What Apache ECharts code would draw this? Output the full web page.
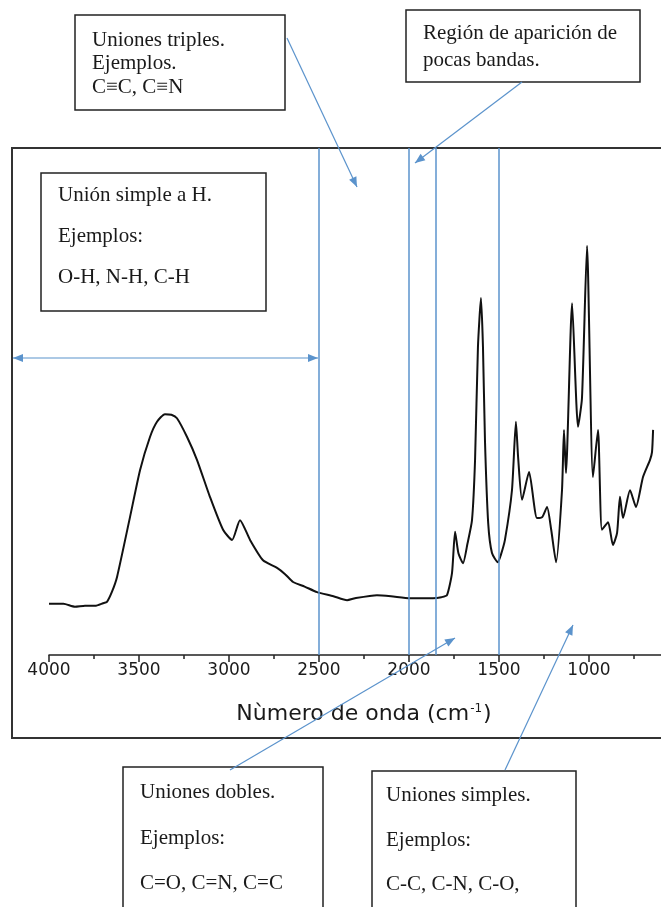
<!DOCTYPE html>
<html>
<head>
<meta charset="utf-8">
<script src="https://cdn.jsdelivr.net/npm/echarts@6/dist/echarts.min.js"></script>
<style>
  html, body { margin: 0; padding: 0; background: #ffffff; }
  #chart { width: 661px; height: 907px; }
</style>
</head>
<body>
<div id="chart"></div>
<script>
// IR spectrum: wavenumber (cm-1) and absorbance (arbitrary units, 0-100)
const wavenumbers = [
  4000, 3920, 3856, 3800, 3744, 3700, 3678, 3650, 3622, 3550, 3494, 3439, 3400, 3356, 3320,
  3289, 3233, 3178, 3106, 3033, 2983, 2939, 2883, 2811, 2733, 2690, 2644, 2580, 2511, 2420,
  2344, 2300, 2178, 2100, 1994, 1867, 1820, 1789, 1761, 1744, 1725, 1700, 1675, 1650, 1633,
  1617, 1600, 1589, 1578, 1560, 1539, 1506, 1490, 1467, 1428, 1406, 1394, 1372, 1333, 1289,
  1260, 1233, 1210, 1183, 1150, 1139, 1128, 1094, 1061, 1039, 1011, 978, 950, 928, 894,
  867, 844, 828, 811, 772, 739, 700, 661, 650, 644
];
const absorbance = [
  10.1, 10.1, 9.5, 9.7, 9.7, 10.2, 10.5, 12.5, 15.4, 27.2, 36.5, 43.0, 46.0, 47.5, 47.4,
  46.7, 43.0, 38.5, 31.2, 24.7, 22.7, 26.6, 22.7, 18.7, 17.2, 16.0, 14.4, 13.5, 12.4, 11.6,
  10.8, 11.2, 11.8, 11.6, 11.2, 11.2, 11.4, 11.8, 16.2, 24.3, 20.0, 18.1, 22.0, 26.6, 38.5,
  60.7, 70.4, 60.7, 42.4, 26.0, 20.1, 18.3, 19.7, 22.7, 32.5, 46.0, 39.1, 30.6, 36.1, 27.0,
  27.2, 29.2, 24.7, 18.3, 32.5, 44.4, 35.9, 69.4, 45.0, 50.7, 80.7, 35.1, 44.4, 24.7, 26.2,
  21.7, 24.1, 31.2, 27.0, 32.5, 29.2, 35.1, 38.5, 40.0, 44.4
];

// Axis tick labels and region boundaries (cm-1)
const tickLabels = ['4000', '3500', '3000', '2500', '2000', '1500', '1000'];
const regionBounds = [2500, 2000, 1850, 1500];

// Annotation texts
const notesTriple = ['Uniones triples.', 'Ejemplos.', 'C\u2261C, C\u2261N'];
const notesFew = ['Regi\u00f3n de aparici\u00f3n de', 'pocas bandas.'];
const notesH = ['Uni\u00f3n simple a H.', 'Ejemplos:', 'O-H, N-H, C-H'];
const notesDouble = ['Uniones dobles.', 'Ejemplos:', 'C=O, C=N, C=C'];
const notesSingle = ['Uniones simples.', 'Ejemplos:', 'C-C, C-N, C-O,'];

const BLUE = '#5b93cc';
const INK = '#1a1a1a';
const SERIF = '21px "Liberation Serif", "Times New Roman", serif';

const chart = echarts.init(document.getElementById('chart'), null, { renderer: 'canvas' });

const spectrum = wavenumbers.map((w, i) => [w, absorbance[i]]);

chart.setOption({
  animation: false,
  backgroundColor: '#ffffff',
  // the axis runs on past the right edge of the page
  grid: { left: 49, width: 630, top: 148, bottom: 252, containLabel: false, outerBoundsMode: 'none' },
  xAxis: {
    type: 'value',
    min: 500,
    max: 4000,
    interval: 500,
    inverse: true,
    name: 'N\u00f9mero de onda (cm{sup|-1})',
    nameLocation: 'middle',
    nameGap: 48,
    nameTextStyle: {
      fontFamily: '"DejaVu Sans", sans-serif',
      fontSize: 22,
      color: INK,
      rich: {
        sup: { fontFamily: '"DejaVu Sans", sans-serif', fontSize: 12, color: INK, verticalAlign: 'top', padding: [0, 1, 0, 1] }
      }
    },
    axisLine: { show: true, onZero: false, lineStyle: { color: '#222', width: 1.5 } },
    axisTick: { show: true, inside: false, length: 7, lineStyle: { color: '#222', width: 1.5 } },
    minorTick: { show: true, splitNumber: 2, length: 4, lineStyle: { color: '#222', width: 1.5 } },
    axisLabel: {
      show: true,
      margin: 7,
      fontFamily: '"DejaVu Sans", sans-serif',
      fontSize: 17,
      color: INK,
      formatter: v => (tickLabels.indexOf(String(v)) >= 0 ? String(v) : '')
    },
    splitLine: { show: false },
    minorSplitLine: { show: false }
  },
  yAxis: {
    type: 'value',
    min: 0,
    max: 100,
    show: false
  },
  series: [{
    type: 'line',
    data: spectrum,
    showSymbol: false,
    smooth: 0.2,
    lineStyle: { color: '#111', width: 2 },
    z: 3,
    markLine: {
      silent: true,
      symbol: 'none',
      label: { show: false },
      lineStyle: { color: BLUE, width: 1.5, type: 'solid' },
      data: regionBounds.map(b => ({ xAxis: b }))
    }
  }]
});

// ---- annotations: boxes, texts and arrows ----
function arrowHead(x1, y1, x2, y2, len, w) {
  const a = Math.atan2(y2 - y1, x2 - x1);
  const bx = x2 - len * Math.cos(a), by = y2 - len * Math.sin(a);
  const nx = -Math.sin(a) * w / 2, ny = Math.cos(a) * w / 2;
  return {
    type: 'polygon', silent: true, z: 20,
    shape: { points: [[x2, y2], [bx + nx, by + ny], [bx - nx, by - ny]] },
    style: { fill: BLUE }
  };
}
function arrow(x1, y1, x2, y2, both) {
  const els = [{
    type: 'line', silent: true, z: 19,
    shape: { x1: x1, y1: y1, x2: x2, y2: y2 },
    style: { stroke: BLUE, lineWidth: 1.2 }
  }, arrowHead(x1, y1, x2, y2, 10, 8)];
  if (both) els.push(arrowHead(x2, y2, x1, y1, 10, 8));
  return els;
}
function box(x, y, w, h, lines, tx, lineYs) {
  const els = [{
    type: 'rect', silent: true, z: 15,
    shape: { x: x, y: y, width: w, height: h },
    style: { fill: '#ffffff', stroke: '#222', lineWidth: 1.5 }
  }];
  lines.forEach((t, i) => {
    els.push({
      type: 'text', silent: true, z: 16,
      x: tx, y: lineYs[i],
      style: { text: t, font: SERIF, fill: INK, align: 'left', verticalAlign: 'middle' }
    });
  });
  return els;
}

const x2500 = chart.convertToPixel({ xAxisIndex: 0 }, regionBounds[0]);

let graphics = [];
// outer frame around the plot
graphics.push({
  type: 'rect', silent: true, z: 1,
  shape: { x: 12, y: 148, width: 670, height: 590 },
  style: { fill: 'none', stroke: '#333', lineWidth: 2 }
});
graphics = graphics.concat(box(75, 15, 210, 95, notesTriple, 92, [40, 63, 87]));
graphics = graphics.concat(box(406, 10, 234, 72, notesFew, 423, [33, 60]));
graphics = graphics.concat(box(41, 173, 225, 138, notesH, 58, [195, 236, 277]));
graphics = graphics.concat(box(123, 767, 200, 160, notesDouble, 140, [792, 838, 883]));
graphics = graphics.concat(box(372, 771, 204, 160, notesSingle, 386, [795, 840, 884]));
graphics = graphics.concat(arrow(13, 358, x2500 - 1, 358, true));
graphics = graphics.concat(arrow(287, 38, 357, 187));
graphics = graphics.concat(arrow(522, 82, 415, 163));
graphics = graphics.concat(arrow(230, 770, 455, 638));
graphics = graphics.concat(arrow(505, 770, 573, 625));

chart.setOption({ graphic: graphics });
</script>
</body>
</html>
